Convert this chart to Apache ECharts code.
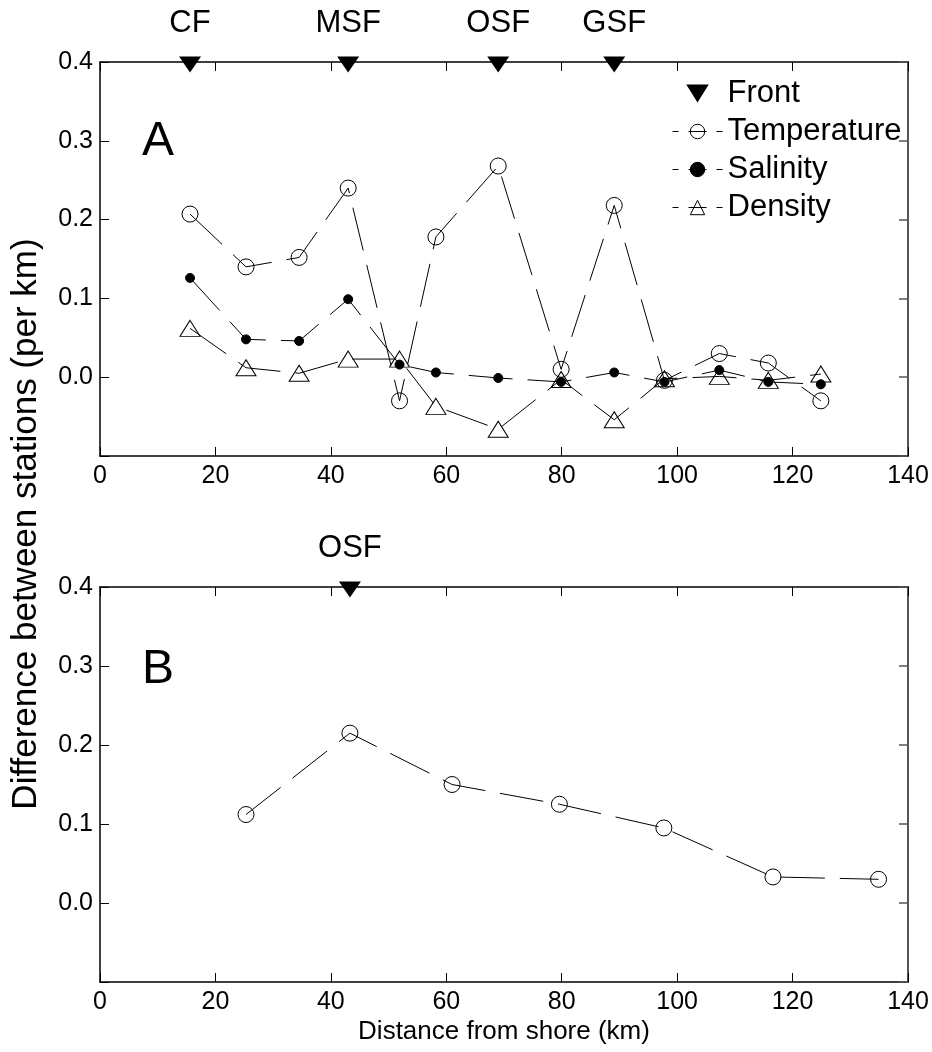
<!DOCTYPE html>
<html>
<head>
<meta charset="utf-8">
<script src="https://cdn.jsdelivr.net/npm/echarts@6/dist/echarts.min.js"></script>
<style>
html,body{margin:0;padding:0;background:#fff;}
#chart{width:932px;height:1052px;}
</style>
</head>
<body>
<div id="chart"></div>
<script>
// ---- Data ----
const xTicks = [0, 20, 40, 60, 80, 100, 120, 140];
const yTicks = [-0.1, 0.0, 0.1, 0.2, 0.3, 0.4];

// Panel A
const distA = [15.6, 25.3, 34.5, 43.0, 51.9, 58.2, 69.0, 79.9, 89.1, 97.8, 107.3, 115.8, 124.9];
const tempA = [0.207, 0.140, 0.152, 0.240, -0.030, 0.178, 0.268, 0.010, 0.218, -0.004, 0.030, 0.018, -0.030];
const salA  = [0.126, 0.048, 0.046, 0.099, 0.016, 0.006, -0.001, -0.006, 0.006, -0.006, 0.009, -0.006, -0.009];
const densA = [0.062, 0.012, 0.005, 0.023, 0.023, -0.037, -0.066, -0.003, -0.054, -0.002, 0.001, -0.004, 0.004];
const frontNamesA = ['CF', 'MSF', 'OSF', 'GSF'];
const frontDistA  = [15.6, 43.0, 69.0, 89.1];

// Panel B
const distB = [25.3, 43.3, 61.0, 79.6, 97.7, 116.6, 134.9];
const tempB = [0.112, 0.215, 0.150, 0.125, 0.095, 0.033, 0.030];
const frontNamesB = ['OSF'];
const frontDistB  = [43.3];

const frontLevel = 0.4;

// ---- Styling ----
const FONT = 'Liberation Sans, Arial, sans-serif';
const DASH = [44, 15];
const TRI_DOWN = 'path://M0,0L20,0L10,16Z';

function pairs(xs, ys) { return xs.map((x, i) => [x, ys[i]]); }
function fronts(xs, names) { return xs.map((x, i) => ({ value: [x, frontLevel], name: names[i] })); }

function yFmt(v) {
  if (v < -0.05) return '';
  if (Math.abs(v) < 1e-9) return '0.0';
  return v.toFixed(1);
}

const grids = [
  { left: 100, right: 24, top: 62, height: 394 },
  { left: 100, right: 24, top: 587, height: 395 }
];

const xAxes = [], yAxes = [];
grids.forEach((g, gi) => {
  xAxes.push({
    type: 'value', gridIndex: gi, position: 'bottom',
    min: xTicks[0], max: xTicks[xTicks.length - 1], interval: 20,
    axisLine: { show: true, onZero: false, lineStyle: { color: '#000', width: 1.5 } },
    axisTick: { show: true, inside: true, length: 9, lineStyle: { color: '#000', width: 1 } },
    axisLabel: { show: true, color: '#000', fontSize: 25, fontFamily: FONT, margin: 8 },
    splitLine: { show: false },
    name: gi === 1 ? 'Distance from shore (km)' : '',
    nameLocation: 'middle', nameGap: 37,
    nameTextStyle: { color: '#000', fontSize: 26, fontFamily: FONT }
  });
  xAxes.push({
    type: 'value', gridIndex: gi, position: 'top',
    min: xTicks[0], max: xTicks[xTicks.length - 1], interval: 20,
    axisLine: { show: true, onZero: false, lineStyle: { color: '#000', width: 1.5 } },
    axisTick: { show: true, inside: true, length: 9, lineStyle: { color: '#000', width: 1 } },
    axisLabel: { show: false },
    splitLine: { show: false }
  });
  yAxes.push({
    type: 'value', gridIndex: gi, position: 'left',
    min: yTicks[0], max: yTicks[yTicks.length - 1], interval: 0.1,
    axisLine: { show: true, onZero: false, lineStyle: { color: '#000', width: 1.5 } },
    axisTick: { show: true, inside: true, length: 9, lineStyle: { color: '#000', width: 1 } },
    axisLabel: { show: true, color: '#000', fontSize: 25, fontFamily: FONT, margin: 7, formatter: yFmt },
    splitLine: { show: false }
  });
  yAxes.push({
    type: 'value', gridIndex: gi, position: 'right',
    min: yTicks[0], max: yTicks[yTicks.length - 1], interval: 0.1,
    axisLine: { show: true, onZero: false, lineStyle: { color: '#555', width: 2 } },
    axisTick: { show: true, inside: true, length: 9, lineStyle: { color: '#555', width: 1.5 } },
    axisLabel: { show: false },
    splitLine: { show: false }
  });
});

function lineSeries(name, xs, ys, gi, symbol, size, filled) {
  return {
    name: name, type: 'line', xAxisIndex: gi * 2, yAxisIndex: gi * 2,
    data: pairs(xs, ys),
    symbol: symbol, symbolSize: size, showSymbol: true, showAllSymbol: true,
    lineStyle: { color: '#000', width: 1, type: DASH },
    itemStyle: { color: filled ? '#000' : 'rgba(0,0,0,0)', borderColor: '#000', borderWidth: 1, opacity: 1 },
    emphasis: { disabled: true }, silent: true, z: 3
  };
}

function frontSeries(name, xs, names, gi) {
  return {
    name: name, type: 'scatter', xAxisIndex: gi * 2, yAxisIndex: gi * 2,
    data: fronts(xs, names),
    symbol: TRI_DOWN, symbolSize: [22, 16], symbolOffset: [0, 2.5],
    itemStyle: { color: '#000', opacity: 1 }, clip: false,
    label: { show: true, position: 'top', distance: 18, formatter: '{b}', color: '#000',
             opacity: 1, fontSize: 31, fontFamily: FONT, lineHeight: 31 },
    emphasis: { disabled: true }, silent: true, z: 5
  };
}

const series = [
  frontSeries('Front', frontDistA, frontNamesA, 0),
  lineSeries('Temperature', distA, tempA, 0, 'circle', 16, false),
  lineSeries('Salinity', distA, salA, 0, 'circle', 9, true),
  lineSeries('Density', distA, densA, 0, 'triangle', [20, 16], false),
  frontSeries('Front B', frontDistB, frontNamesB, 1),
  lineSeries('Temperature B', distB, tempB, 1, 'circle', 16, false)
];

const option = {
  animation: false,
  backgroundColor: '#fff',
  grid: grids,
  xAxis: xAxes,
  yAxis: yAxes,
  legend: {
    data: [{ name: 'Front', icon: TRI_DOWN, itemStyle: { color: '#000', opacity: 1 } }, 'Temperature', 'Salinity', 'Density'],
    orient: 'vertical', left: 667, top: 73,
    itemWidth: 50, itemHeight: 18, itemGap: 7,
    selectedMode: false,
    textStyle: { color: '#000', fontSize: 31, fontFamily: FONT },
    lineStyle: { type: [6, 10, 18, 10, 6, 50], width: 1, color: '#000' },
    itemStyle: { borderWidth: 1 },
    symbolKeepAspect: true
  },
  graphic: [
    { type: 'text', left: 142, top: 118, silent: true,
      style: { text: 'A', font: '48px ' + FONT, fill: '#000' } },
    { type: 'text', left: 142, top: 646, silent: true,
      style: { text: 'B', font: '48px ' + FONT, fill: '#000' } },
    { type: 'text', x: 26, y: 524, rotation: Math.PI / 2, silent: true,
      style: { text: 'Difference between stations (per km)', font: '35px ' + FONT, fill: '#000',
               align: 'center', verticalAlign: 'middle' } }
  ],
  series: series
};

const chart = echarts.init(document.getElementById('chart'), null, { renderer: 'canvas' });
chart.setOption(option);
</script>
</body>
</html>
